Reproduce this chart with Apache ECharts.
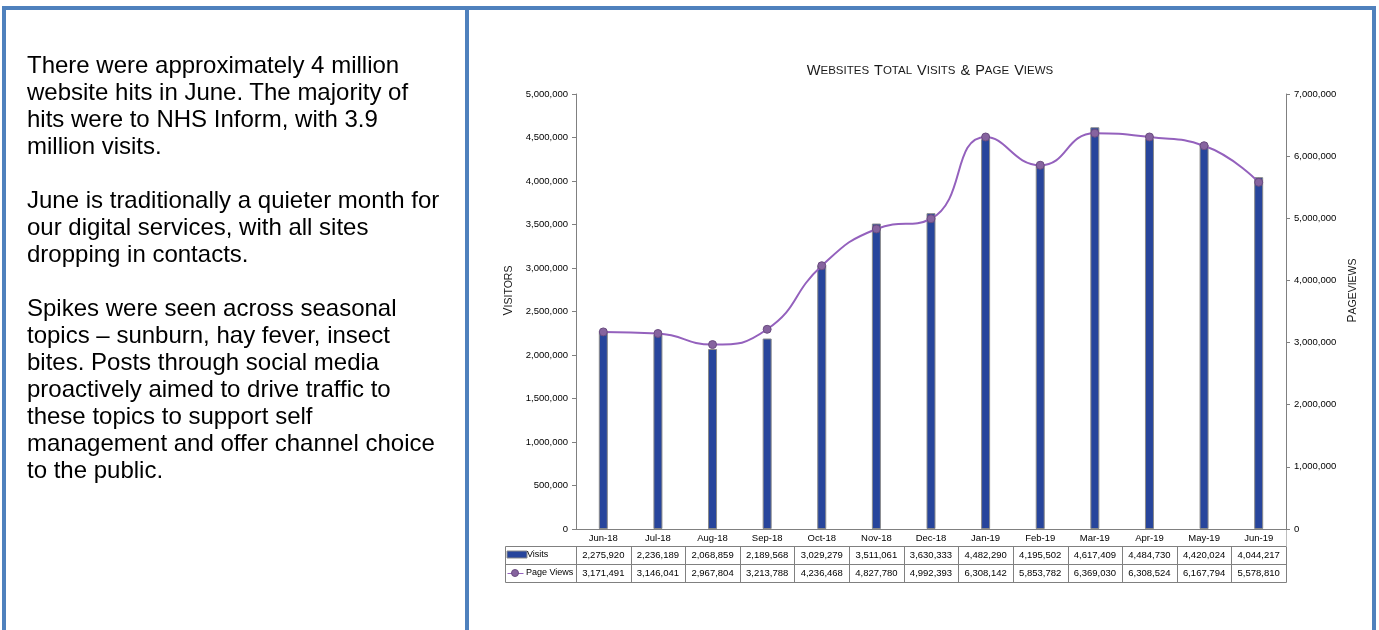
<!DOCTYPE html>
<html>
<head>
<meta charset="utf-8">
<title>Websites Total Visits &amp; Page Views</title>
<script src="https://cdn.jsdelivr.net/npm/echarts@6/dist/echarts.min.js"></script>
<style>
    html, body { margin: 0; padding: 0; background: #fff; }
    #page { position: relative; width: 1379px; height: 630px; overflow: hidden; }
    #chart { position: absolute; left: 0; top: 0; width: 1379px; height: 630px; }
    .rule { position: absolute; background: #4F81BD; }
    #notes {
        position: absolute; left: 27px; top: 51px;
        font-family: 'Liberation Sans', Arial, sans-serif; font-size: 24px;
        line-height: 27px; color: #000; white-space: nowrap;
    }
</style>
</head>
<body>
<div id="page">
    <div id="chart"></div>
    <!-- frame -->
    <div class="rule" style="left:2px;top:6px;width:1374px;height:4px"></div>
    <div class="rule" style="left:2px;top:6px;width:4px;height:624px"></div>
    <div class="rule" style="left:465px;top:6px;width:4px;height:624px"></div>
    <div class="rule" style="left:1372px;top:6px;width:4px;height:624px"></div>
    <div id="notes">
        There were approximately 4 million<br>
        website hits in June. The majority of<br>
        hits were to NHS Inform, with 3.9<br>
        million visits.<br>
        <br>
        June is traditionally a quieter month for<br>
        our digital services, with all sites<br>
        dropping in contacts.<br>
        <br>
        Spikes were seen across seasonal<br>
        topics – sunburn, hay fever, insect<br>
        bites. Posts through social media<br>
        proactively aimed to drive traffic to<br>
        these topics to support self<br>
        management and offer channel choice<br>
        to the public.
    </div>
</div>
<script>
// data
const months = ['Jun-18', 'Jul-18', 'Aug-18', 'Sep-18', 'Oct-18', 'Nov-18', 'Dec-18',
    'Jan-19', 'Feb-19', 'Mar-19', 'Apr-19', 'May-19', 'Jun-19']
const visits = [2275920, 2236189, 2068859, 2189568, 3029279, 3511061, 3630333,
    4482290, 4195502, 4617409, 4484730, 4420024, 4044217]
const pageViews = [3171491, 3146041, 2967804, 3213788, 4236468, 4827780, 4992393,
    6308142, 5853782, 6369030, 6308524, 6167794, 5578810]
const visitsMax = 5000000
const visitsStep = 500000
const viewsMax = 7000000
const viewsStep = 1000000

const FONT = "'Liberation Sans', Arial, sans-serif"
const BAR_COLOR = '#27459C'
const LINE_COLOR = '#9461BD'
const DOT_COLOR = '#86639F'
const GRID_GRAY = '#808080'

function fmt(v) {
    return String(v).replace(/\B(?=(\d{3})+(?!\d))/g, ',')
}

const chart = echarts.init(document.getElementById('chart'))

// small caps: capital letter a bit larger than the rest
const capsRich = (big, small) => ({
    a: {fontSize: big, fontFamily: FONT, fontWeight: 'normal', color: '#1a1a1a'},
    b: {fontSize: small, fontFamily: FONT, fontWeight: 'normal', color: '#1a1a1a'}
})

const option = {
    animation: false,
    title: {
        text: '{a|W}{b|EBSITES} {a|T}{b|OTAL} {a|V}{b|ISITS} {a|&} {a|P}{b|AGE} {a|V}{b|IEWS}',
        left: 925,
        top: 57,
        textAlign: 'center',
        textStyle: {fontWeight: 'normal', rich: capsRich(14.5, 11.5)}
    },
    grid: {left: 576, right: 93, top: 94, bottom: 101},
    xAxis: {
        type: 'category',
        data: months,
        axisLine: {lineStyle: {color: GRID_GRAY}},
        axisTick: {length: 17, lineStyle: {color: '#bdbdbd'}},
        axisLabel: {margin: 4, fontSize: 9.5, fontFamily: FONT, color: '#000'}
    },
    yAxis: [
        {
            type: 'value',
            min: 0, max: visitsMax, interval: visitsStep,
            name: '{a|V}{b|ISITORS}',
            nameLocation: 'middle', nameRotate: 90, nameGap: 48,
            nameTextStyle: {padding: [0, 0, 0, 42], rich: capsRich(12, 10.5)},
            axisLine: {show: true, lineStyle: {color: GRID_GRAY}},
            axisTick: {show: true, length: 4, lineStyle: {color: GRID_GRAY}},
            splitLine: {show: false},
            axisLabel: {margin: 8, fontSize: 9.5, fontFamily: FONT, color: '#000', formatter: fmt}
        },
        {
            type: 'value',
            min: 0, max: viewsMax, interval: viewsStep,
            name: '{a|P}{b|AGEVIEWS}',
            nameLocation: 'middle', nameRotate: 90, nameGap: 45,
            nameTextStyle: {padding: [0, 0, 0, 42], rich: capsRich(12, 10.5)},
            axisLine: {show: true, lineStyle: {color: GRID_GRAY}},
            axisTick: {show: true, length: 4, lineStyle: {color: GRID_GRAY}},
            splitLine: {show: false},
            axisLabel: {margin: 8, fontSize: 9.5, fontFamily: FONT, color: '#000', formatter: fmt}
        }
    ],
    series: [
        {
            name: 'Visits',
            type: 'bar',
            data: visits,
            barWidth: 9,
            itemStyle: {color: BAR_COLOR, borderColor: '#8a8a8a', borderWidth: 1}
        },
        {
            name: 'Page Views',
            type: 'line',
            yAxisIndex: 1,
            data: pageViews,
            smooth: true,
            symbol: 'circle',
            symbolSize: 8,
            z: 5,
            lineStyle: {color: LINE_COLOR, width: 2},
            itemStyle: {color: DOT_COLOR, borderColor: '#6a4c80', borderWidth: 1}
        }
    ]
}
chart.setOption(option)

// data table under the plot, laid out from the category axis
function drawTable() {
    const p0 = chart.convertToPixel({gridIndex: 0}, [0, 0])
    const p1 = chart.convertToPixel({gridIndex: 0}, [1, 0])
    const colW = p1[0] - p0[0]
    const left = p0[0] - colW / 2
    const right = left + colW * months.length
    const axisY = p0[1]
    const rows = [axisY + 17, axisY + 35, axisY + 53]
    const keyLeft = 504.5
    const els = []
    const snap = v => Math.round(v) + 0.5
    const seg = (xa, ya, xb, yb, c) => els.push({
        type: 'line', silent: true,
        shape: {x1: snap(xa), y1: snap(ya), x2: snap(xb), y2: snap(yb)},
        style: {stroke: c, lineWidth: 1}
    })
    const txt = (s, x, y, align, size) => els.push({
        type: 'text', silent: true, x: x, y: y,
        style: {text: s, fill: '#000', fontSize: size || 9.5, fontFamily: FONT,
                align: align, textAlign: align, verticalAlign: 'middle', textVerticalAlign: 'middle'}
    })

    rows.forEach(y => seg(keyLeft, y, right, y, GRID_GRAY))
    seg(keyLeft, rows[0], keyLeft, rows[2], GRID_GRAY)
    for (let i = 0; i <= months.length; i++) {
        seg(left + i * colW, rows[0], left + i * colW, rows[2], GRID_GRAY)
    }
    seg(right, axisY, right, rows[0], '#bdbdbd')

    const mid1 = (rows[0] + rows[1]) / 2
    const mid2 = (rows[1] + rows[2]) / 2
    for (let i = 0; i < months.length; i++) {
        const cx = left + (i + 0.5) * colW
        txt(fmt(visits[i]), cx, mid1, 'center')
        txt(fmt(pageViews[i]), cx, mid2, 'center')
    }

    // legend keys
    els.push({type: 'rect', silent: true, shape: {x: 507, y: mid1 - 4, width: 20, height: 7},
        style: {fill: BAR_COLOR, stroke: '#8a8a8a', lineWidth: 1}})
    txt('Visits', 527, mid1, 'left', 9)
    seg(507, mid2, 523, mid2, LINE_COLOR)
    els.push({type: 'circle', silent: true, shape: {cx: 515, cy: mid2, r: 3.5},
        style: {fill: DOT_COLOR, stroke: '#6a4c80', lineWidth: 1}})
    txt('Page Views', 526, mid2, 'left', 9)

    chart.setOption({graphic: {elements: els}})
}
drawTable()
</script>
</body>
</html>
